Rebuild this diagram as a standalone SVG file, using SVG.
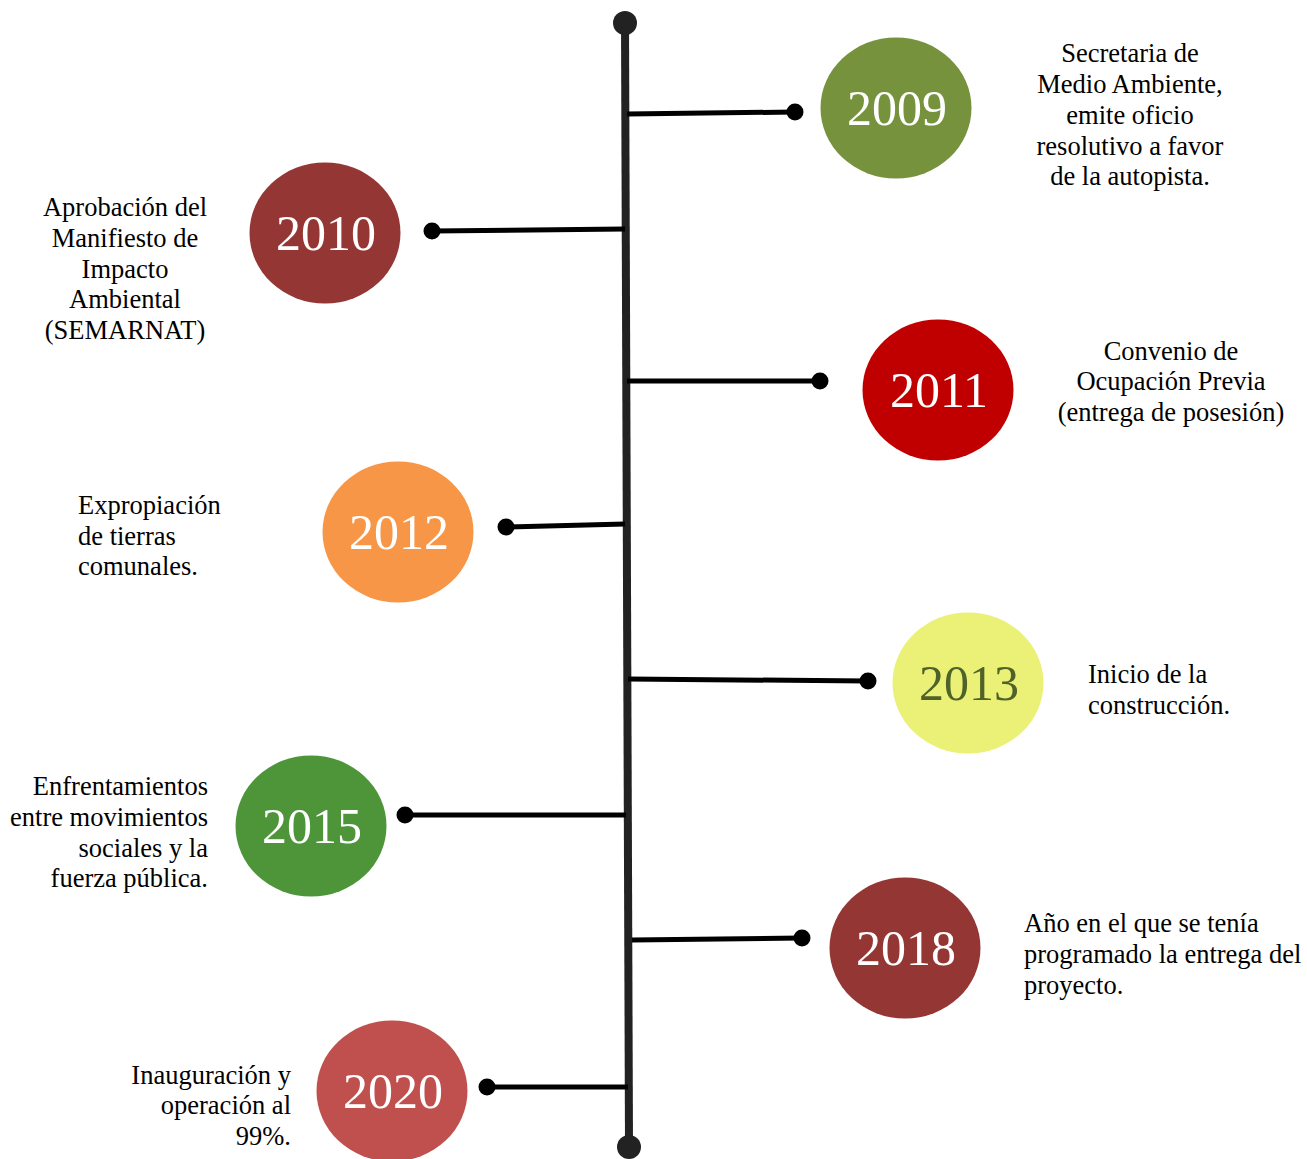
<svg xmlns="http://www.w3.org/2000/svg" width="1307" height="1159" viewBox="0 0 1307 1159">
  <style>
    .spine { stroke: #222222; stroke-width: 8; fill: none; }
    .spine-end { fill: #222222; }
    .link { stroke: #000000; stroke-width: 5; fill: none; }
    .link-end { fill: #000000; }
    .year { font-family: "Liberation Serif", "Times New Roman", serif; font-size: 50px; fill: #ffffff; text-anchor: middle; }
    .label { font-family: "Liberation Serif", "Times New Roman", serif; font-size: 26.5px; fill: #000000; }
    .mid { text-anchor: middle; }
    .end { text-anchor: end; }
  </style>

  <rect width="1307" height="1159" fill="#ffffff"/>

  <!-- timeline spine and connectors -->
  <g id="connectors">
    <line class="spine" x1="625" y1="23" x2="629" y2="1147"/>
    <circle class="spine-end" cx="625" cy="23" r="12"/>
    <circle class="spine-end" cx="629" cy="1147" r="12"/>

    <line class="link" x1="627" y1="114" x2="795" y2="112"/>
    <circle class="link-end" cx="795" cy="112" r="8.5"/>

    <line class="link" x1="625" y1="229" x2="432" y2="231"/>
    <circle class="link-end" cx="432" cy="231" r="8.5"/>

    <line class="link" x1="627" y1="381" x2="820" y2="381"/>
    <circle class="link-end" cx="820" cy="381" r="8.5"/>

    <line class="link" x1="625" y1="524" x2="506" y2="527"/>
    <circle class="link-end" cx="506" cy="527" r="8.5"/>

    <line class="link" x1="628" y1="679" x2="868" y2="681"/>
    <circle class="link-end" cx="868" cy="681" r="8.5"/>

    <line class="link" x1="626" y1="815" x2="405" y2="815"/>
    <circle class="link-end" cx="405" cy="815" r="8.5"/>

    <line class="link" x1="632" y1="940" x2="802" y2="938"/>
    <circle class="link-end" cx="802" cy="938" r="8.5"/>

    <line class="link" x1="628" y1="1087" x2="487" y2="1087"/>
    <circle class="link-end" cx="487" cy="1087" r="8.5"/>
  </g>

  <g id="y2009">
    <ellipse cx="896" cy="108" rx="75.5" ry="70.5" fill="#76923C"/>
    <text class="year" x="897" y="125">2009</text>
    <text class="label mid" x="1130" y="62">Secretaria de</text>
    <text class="label mid" x="1130" y="93">Medio Ambiente,</text>
    <text class="label mid" x="1130" y="124">emite oficio</text>
    <text class="label mid" x="1130" y="155">resolutivo a favor</text>
    <text class="label mid" x="1130" y="185">de la autopista.</text>
  </g>

  <g id="y2010">
    <ellipse cx="325" cy="233" rx="75.5" ry="70.5" fill="#943634"/>
    <text class="year" x="326" y="250">2010</text>
    <text class="label mid" x="125" y="216">Aprobación del</text>
    <text class="label mid" x="125" y="247">Manifiesto de</text>
    <text class="label mid" x="125" y="278">Impacto</text>
    <text class="label mid" x="125" y="308">Ambiental</text>
    <text class="label mid" x="125" y="339">(SEMARNAT)</text>
  </g>

  <g id="y2011">
    <ellipse cx="938" cy="390" rx="75.5" ry="70.5" fill="#C00000"/>
    <text class="year" x="939" y="407">2011</text>
    <text class="label mid" x="1171" y="360">Convenio de</text>
    <text class="label mid" x="1171" y="390">Ocupación Previa</text>
    <text class="label mid" x="1171" y="421">(entrega de posesión)</text>
  </g>

  <g id="y2012">
    <ellipse cx="398" cy="532" rx="75.5" ry="70.5" fill="#F79646"/>
    <text class="year" x="399" y="549">2012</text>
    <text class="label" x="78" y="514">Expropiación</text>
    <text class="label" x="78" y="545">de tierras</text>
    <text class="label" x="78" y="575">comunales.</text>
  </g>

  <g id="y2013">
    <ellipse cx="968" cy="683" rx="75.5" ry="70.5" fill="#EBF176"/>
    <text class="year" x="969" y="700" style="fill:#4F6228">2013</text>
    <text class="label" x="1088" y="683">Inicio de la</text>
    <text class="label" x="1088" y="714">construcción.</text>
  </g>

  <g id="y2015">
    <ellipse cx="311" cy="826" rx="75.5" ry="70.5" fill="#4E953A"/>
    <text class="year" x="312" y="843">2015</text>
    <text class="label end" x="208" y="795">Enfrentamientos</text>
    <text class="label end" x="208" y="826">entre movimientos</text>
    <text class="label end" x="208" y="857">sociales y la</text>
    <text class="label end" x="208" y="887">fuerza pública.</text>
  </g>

  <g id="y2018">
    <ellipse cx="905" cy="948" rx="75.5" ry="70.5" fill="#943634"/>
    <text class="year" x="906" y="965">2018</text>
    <text class="label" x="1024" y="932">Año en el que se tenía</text>
    <text class="label" x="1024" y="963">programado la entrega del</text>
    <text class="label" x="1024" y="994">proyecto.</text>
  </g>

  <g id="y2020">
    <ellipse cx="392" cy="1091" rx="75.5" ry="70.5" fill="#C0504D"/>
    <text class="year" x="393" y="1108">2020</text>
    <text class="label end" x="291" y="1084">Inauguración y</text>
    <text class="label end" x="291" y="1114">operación al</text>
    <text class="label end" x="291" y="1145">99%.</text>
  </g>
</svg>
